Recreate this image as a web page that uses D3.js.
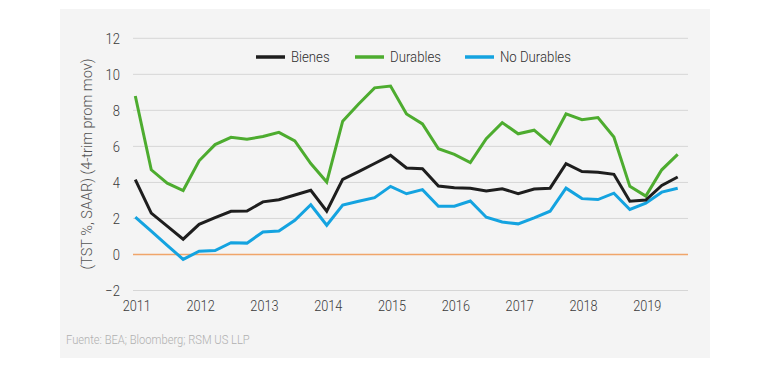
<!DOCTYPE html>
<html>
<head>
<meta charset="utf-8">
<script src="https://cdn.jsdelivr.net/npm/d3@7/dist/d3.min.js"></script>
<style>
  html, body { margin: 0; padding: 0; background: #ffffff; }
  svg { display: block; }
  text { font-family: Roboto, "Noto Sans", sans-serif; font-weight: 300; }
</style>
</head>
<body>
<script>
// ---- data (quarterly, 2011Q1 .. 2019Q3) ----
const quarters = d3.range(35); // index 0 = 2011Q1
const bienes = [4.15, 2.3, 1.57, 0.85, 1.67, 2.04, 2.4, 2.41, 2.92, 3.04, 3.3, 3.56,
  2.4, 4.17, 4.6, 5.05, 5.5, 4.8, 4.76, 3.8, 3.7, 3.68, 3.52, 3.65,
  3.37, 3.63, 3.68, 5.04, 4.6, 4.56, 4.45, 2.96, 3.02, 3.83, 4.3];
const durables = [8.8, 4.7, 3.96, 3.55, 5.2, 6.1, 6.5, 6.4, 6.55, 6.78, 6.3, 5.05,
  4.02, 7.4, 8.35, 9.25, 9.35, 7.8, 7.25, 5.87, 5.56, 5.1, 6.43, 7.32,
  6.7, 6.9, 6.15, 7.8, 7.48, 7.6, 6.52, 3.78, 3.24, 4.7, 5.56];
const noDurables = [2.07, 1.29, 0.51, -0.27, 0.18, 0.22, 0.65, 0.63, 1.25, 1.3, 1.9, 2.76,
  1.62, 2.74, 2.95, 3.15, 3.78, 3.37, 3.6, 2.68, 2.68, 2.97, 2.07, 1.8,
  1.7, 2.03, 2.4, 3.68, 3.1, 3.05, 3.4, 2.5, 2.85, 3.46, 3.68];
const seriesNames = ["Bienes", "Durables", "No Durables"];
const seriesColors = ["#1e1e1e", "#4dac2f", "#14a3e0"];
const yTicks = [-2, 0, 2, 4, 6, 8, 10, 12];
const yearLabels = ["2011", "2012", "2013", "2014", "2015", "2016", "2017", "2018", "2019"];
const yTitle = "(TST %, SAAR) (4-trim prom mov)";
const source = "Fuente: BEA; Bloomberg; RSM US LLP";

const W = 770, H = 367;
const svg = d3.select("body").append("svg").attr("width", W).attr("height", H);

// panel background
svg.append("rect").attr("x", 60).attr("y", 9).attr("width", 650).attr("height", 349).attr("fill", "#f4f4f4");

const x = d3.scaleLinear().domain([0, 34]).range([135.3, 677.7]);
const y = d3.scaleLinear().domain([-2, 12]).range([290.5, 38.3]);
const gridX0 = 133, gridX1 = 688;

// gridlines
svg.append("g").selectAll("line").data(yTicks.filter(d => d !== 0)).join("line")
  .attr("x1", gridX0).attr("x2", gridX1)
  .attr("y1", d => y(d)).attr("y2", d => y(d))
  .attr("stroke", "#d6d6d6").attr("stroke-width", 1);

// zero line
svg.append("line").attr("x1", gridX0).attr("x2", gridX1)
  .attr("y1", y(0)).attr("y2", y(0))
  .attr("stroke", "#f0a56a").attr("stroke-width", 1.5);

// y tick labels (condensed via horizontal scale)
svg.append("g").selectAll("text").data(yTicks).join("text")
  .attr("transform", d => `translate(120,${y(d)}) scale(0.84,1)`)
  .attr("dy", "0.35em")
  .attr("text-anchor", "end").attr("font-size", 15.5).attr("fill", "#3a3a3a")
  .text(d => d < 0 ? "\u2212" + Math.abs(d) : d);

// x tick labels
svg.append("g").selectAll("text").data(yearLabels).join("text")
  .attr("transform", (d, i) => `translate(${x(i * 4) + 1.5},306) scale(0.82,1)`)
  .attr("dy", "0.35em")
  .attr("text-anchor", "middle").attr("font-size", 15.5).attr("fill", "#3a3a3a")
  .text(d => d);

// y title
svg.append("text")
  .attr("transform", "translate(87,164) rotate(-90)")
  .attr("text-anchor", "middle").attr("dy", "0.35em")
  .attr("font-family", "Lato, 'Open Sans', sans-serif").attr("font-size", 14.5).attr("fill", "#555555")
  .text(yTitle);

// lines
const allSeries = [bienes, durables, noDurables];
const line = d3.line().x((d, i) => x(quarters[i])).y(d => y(d));
[1, 2, 0].forEach(k => {
  svg.append("path").datum(allSeries[k])
    .attr("d", line).attr("fill", "none")
    .attr("stroke", seriesColors[k]).attr("stroke-width", 3)
    .attr("stroke-linejoin", "miter");
});

// legend
const legX = [256, 355, 465];
const legY = 57;
const leg = svg.append("g").selectAll("g").data(seriesNames).join("g")
  .attr("transform", (d, i) => `translate(${legX[i]},${legY})`);
leg.append("line").attr("x1", 0).attr("x2", 29).attr("y1", 0).attr("y2", 0)
  .attr("stroke", (d, i) => seriesColors[i]).attr("stroke-width", 3.5);
leg.append("text")
  .attr("transform", "translate(35,0) scale(0.88,1)")
  .attr("dy", "0.35em").attr("font-size", 15).attr("fill", "#2e2e2e")
  .text(d => d);

// source
svg.append("text")
  .attr("transform", "translate(66,339) scale(0.86,1)")
  .attr("dy", "0.35em")
  .attr("font-size", 13).attr("fill", "#b0b0b0")
  .text(source);
</script>
</body>
</html>
